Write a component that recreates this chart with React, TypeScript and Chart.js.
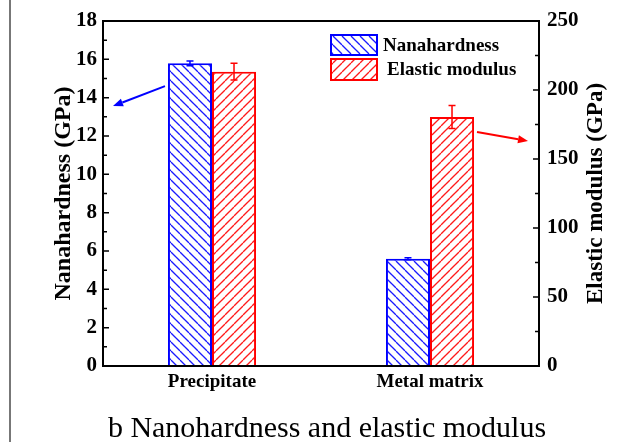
import React, { useEffect, useRef } from "react";
import { Chart, registerables } from "chart.js";

Chart.register(...registerables);

const categories = ["Precipitate", "Metal matrix"];
const nanohardness = [15.79, 5.6];
const nanohardnessErr = [0.12, 0.05];
const modulus = [213.3, 180.4];
const modulusErr = [6, 8.3];
const leftTicks = { min: 0, max: 18, step: 2 };
const rightTicks = { min: 0, max: 250, step: 50 };
const seriesNames = ["Nanahardness", "Elastic modulus"];
const leftTitle = "Nanahardness (GPa)";
const rightTitle = "Elastic modulus (GPa)";
const caption = "b Nanohardness and elastic modulus";

const BLUE = "#0000ff";
const RED = "#ff0000";
const SERIF = "'Liberation Serif', 'Times New Roman', serif";

function makeHatch(color: string, back: boolean): CanvasPattern | string {
  const s = 9;
  const c = document.createElement("canvas");
  c.width = s;
  c.height = s;
  const g = c.getContext("2d");
  if (!g) return color;
  g.fillStyle = "#ffffff";
  g.fillRect(0, 0, s, s);
  g.strokeStyle = color;
  g.lineWidth = 1.3;
  for (let k = -1; k <= 1; k++) {
    g.beginPath();
    if (back) {
      g.moveTo(k * s, 0);
      g.lineTo(k * s + s, s);
    } else {
      g.moveTo(k * s, s);
      g.lineTo(k * s + s, 0);
    }
    g.stroke();
  }
  const p = g.createPattern(c, "repeat");
  return p || color;
}

function arrow(ctx: CanvasRenderingContext2D, x1: number, y1: number, x2: number, y2: number, color: string) {
  const ang = Math.atan2(y2 - y1, x2 - x1);
  const hl = 10;
  const hw = 4;
  const bx = x2 - hl * Math.cos(ang);
  const by = y2 - hl * Math.sin(ang);
  ctx.save();
  ctx.strokeStyle = color;
  ctx.fillStyle = color;
  ctx.lineWidth = 2;
  ctx.beginPath();
  ctx.moveTo(x1, y1);
  ctx.lineTo(bx, by);
  ctx.stroke();
  ctx.beginPath();
  ctx.moveTo(x2, y2);
  ctx.lineTo(bx + hw * Math.sin(ang), by - hw * Math.cos(ang));
  ctx.lineTo(bx - hw * Math.sin(ang), by + hw * Math.cos(ang));
  ctx.closePath();
  ctx.fill();
  ctx.restore();
}

const decorPlugin = {
  id: "decor",
  afterDatasetsDraw(chart: any) {
    const ctx: CanvasRenderingContext2D = chart.ctx;
    const { left, right, top, bottom } = chart.chartArea;
    const yL = chart.scales.y;
    const yR = chart.scales.y1;

    // error bars
    const errs = [nanohardnessErr, modulusErr];
    const vals = [nanohardness, modulus];
    const colors = [BLUE, RED];
    [0, 1].forEach((di) => {
      const meta = chart.getDatasetMeta(di);
      const sc = di === 0 ? yL : yR;
      meta.data.forEach((bar: any, i: number) => {
        const v = vals[di][i];
        const e = errs[di][i];
        const yt = sc.getPixelForValue(v + e);
        const yb = sc.getPixelForValue(v - e);
        ctx.save();
        ctx.strokeStyle = colors[di];
        ctx.lineWidth = 1.5;
        ctx.beginPath();
        ctx.moveTo(bar.x, yt);
        ctx.lineTo(bar.x, yb);
        ctx.moveTo(bar.x - 3.5, yt);
        ctx.lineTo(bar.x + 3.5, yt);
        ctx.moveTo(bar.x - 3.5, yb);
        ctx.lineTo(bar.x + 3.5, yb);
        ctx.stroke();
        ctx.restore();
      });
    });

    // frame
    ctx.save();
    ctx.strokeStyle = "#000";
    ctx.lineWidth = 2;
    ctx.strokeRect(left, top, right - left, bottom - top);

    // inward ticks
    ctx.lineWidth = 1.5;
    ctx.beginPath();
    for (let v = leftTicks.min; v <= leftTicks.max; v += leftTicks.step / 2) {
      const y = yL.getPixelForValue(v);
      const major = Math.abs(v / leftTicks.step - Math.round(v / leftTicks.step)) < 1e-6;
      ctx.moveTo(left, y);
      ctx.lineTo(left + (major ? 6 : 4), y);
    }
    for (let v = rightTicks.min; v <= rightTicks.max; v += rightTicks.step / 2) {
      const y = yR.getPixelForValue(v);
      const major = Math.abs(v / rightTicks.step - Math.round(v / rightTicks.step)) < 1e-6;
      ctx.moveTo(right, y);
      ctx.lineTo(right - (major ? 6 : 4), y);
    }
    ctx.stroke();
    ctx.restore();

    // legend
    const ds = chart.data.datasets;
    const bx = left + 228;
    const bw = 46;
    const rows = [
      { y: top + 14, h: 20, tx: bx + bw + 6 },
      { y: top + 38, h: 21, tx: bx + bw + 10 },
    ];
    rows.forEach((r, i) => {
      ctx.save();
      ctx.fillStyle = ds[i].backgroundColor;
      ctx.fillRect(bx, r.y, bw, r.h);
      ctx.strokeStyle = ds[i].borderColor;
      ctx.lineWidth = 2;
      ctx.strokeRect(bx, r.y, bw, r.h);
      ctx.fillStyle = "#000";
      ctx.font = `bold 19px ${SERIF}`;
      ctx.textBaseline = "middle";
      ctx.textAlign = "left";
      ctx.fillText(seriesNames[i], r.tx, r.y + r.h / 2 + 1);
      ctx.restore();
    });

    // annotation arrows
    arrow(ctx, left + 62, yL.getPixelForValue(14.6), left + 10, yL.getPixelForValue(13.56), BLUE);
    arrow(ctx, right - 62, yR.getPixelForValue(169.6), right - 11, yR.getPixelForValue(163), RED);

    // axis titles
    const cy = (top + bottom) / 2;
    ctx.save();
    ctx.fillStyle = "#000";
    ctx.font = `bold 24px ${SERIF}`;
    ctx.textAlign = "center";
    ctx.textBaseline = "middle";
    ctx.translate(64, cy);
    ctx.rotate(-Math.PI / 2);
    ctx.fillText(leftTitle, 0, 0);
    ctx.restore();
    ctx.save();
    ctx.fillStyle = "#000";
    ctx.font = `bold 23px ${SERIF}`;
    ctx.textAlign = "center";
    ctx.textBaseline = "middle";
    ctx.translate(596, cy);
    ctx.rotate(-Math.PI / 2);
    ctx.fillText(rightTitle, 0, 0);
    ctx.restore();

    // caption
    ctx.save();
    ctx.fillStyle = "#000";
    ctx.font = `30px ${SERIF}`;
    ctx.textAlign = "center";
    ctx.textBaseline = "alphabetic";
    ctx.fillText(caption, 327, 437);
    ctx.restore();
  },
};

export default function App() {
  const ref = useRef<HTMLCanvasElement | null>(null);
  useEffect(() => {
    if (!ref.current) return;
    Chart.defaults.font.family = SERIF;
    const chart = new Chart(ref.current, {
      type: "bar",
      data: {
        labels: categories,
        datasets: [
          {
            label: seriesNames[0],
            data: nanohardness,
            yAxisID: "y",
            backgroundColor: makeHatch("#1a1aff", true) as any,
            borderColor: BLUE,
            borderWidth: 2,
          },
          {
            label: seriesNames[1],
            data: modulus,
            yAxisID: "y1",
            backgroundColor: makeHatch("#ff1a1a", false) as any,
            borderColor: RED,
            borderWidth: 2,
          },
        ],
      },
      options: {
        responsive: false,
        animation: false,
        events: [],
        layout: { padding: { left: 10, right: 10, top: 21, bottom: 46 } },
        datasets: { bar: { categoryPercentage: 0.404, barPercentage: 1.0 } },
        plugins: { legend: { display: false }, tooltip: { enabled: false }, title: { display: false } },
        scales: {
          x: {
            grid: { display: false, drawTicks: false },
            border: { display: false },
            ticks: { color: "#000", font: { size: 19, weight: "bold", family: SERIF }, padding: 5 },
            afterFit: (s: any) => {
              s.height = 30;
            },
          },
          y: {
            position: "left",
            min: leftTicks.min,
            max: leftTicks.max,
            grid: { display: false, drawTicks: false },
            border: { display: false },
            ticks: { stepSize: leftTicks.step, color: "#000", font: { size: 21, weight: "bold", family: SERIF }, padding: 6 },
            afterFit: (s: any) => {
              s.width = 93;
            },
          },
          y1: {
            position: "right",
            min: rightTicks.min,
            max: rightTicks.max,
            grid: { display: false, drawTicks: false },
            border: { display: false },
            ticks: { stepSize: rightTicks.step, color: "#000", font: { size: 21, weight: "bold", family: SERIF }, padding: 8 },
            afterFit: (s: any) => {
              s.width = 80;
            },
          },
        },
      },
      plugins: [decorPlugin],
    });
    return () => chart.destroy();
  }, []);

  return (
    <div style={{ position: "absolute", left: 0, top: 0, width: 629, height: 442, background: "#fff" }}>
      <div style={{ position: "absolute", left: 9, top: 0, width: 2, height: 442, background: "#777" }} />
      <canvas ref={ref} width={629} height={442} style={{ position: "absolute", left: 0, top: 0, display: "block" }} />
    </div>
  );
}
